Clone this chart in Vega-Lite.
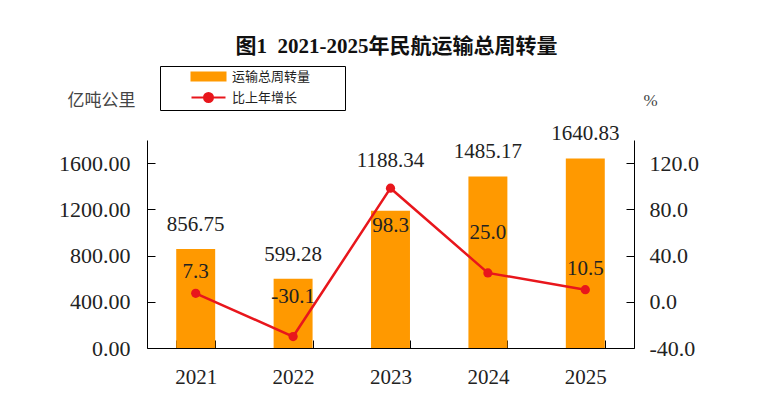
{
  "$schema": "https://vega.github.io/schema/vega-lite/v6.json",
  "width": 487,
  "height": 208,
  "autosize": {"type": "none"},
  "padding": {"left": 147, "top": 140, "right": 127, "bottom": 49},
  "background": "white",
  "title": {
    "text": "图1\u00a0\u00a02021-2025年民航运输总周转量",
    "font": "Liberation Serif, Noto Sans CJK SC",
    "fontSize": 21,
    "fontWeight": "bold",
    "color": "#111",
    "anchor": "middle",
    "offset": 9,
    "dx": 6
  },
  "config": {
    "view": {"stroke": null},
    "axis": {"grid": false},
    "locale": {"number": {"decimal": ".", "thousands": ",", "grouping": [3], "currency": ["", ""], "minus": "-"}}
  },
  "data": {
    "values": [
      {"year": "2021", "volume": 856.75, "growth": 7.3},
      {"year": "2022", "volume": 599.28, "growth": -30.1},
      {"year": "2023", "volume": 1188.34, "growth": 98.3},
      {"year": "2024", "volume": 1485.17, "growth": 25.0},
      {"year": "2025", "volume": 1640.83, "growth": 10.5}
    ]
  },
  "encoding": {
    "x": {
      "field": "year",
      "type": "ordinal",
      "scale": {"paddingInner": 0.6, "paddingOuter": 0.3},
      "axis": {
        "title": null,
        "labelAngle": 0,
        "labelFont": "Liberation Serif",
        "labelFontSize": 21,
        "labelColor": "#222",
        "labelPadding": 26,
        "domainColor": "#000",
        "tickColor": "#000",
        "tickSize": -8,
        "tickBand": "extent"
      }
    }
  },
  "layer": [
    {
      "encoding": {
        "y": {
          "field": "volume",
          "type": "quantitative",
          "scale": {"domain": [0, 1800], "nice": false},
          "axis": {
            "values": [0, 400, 800, 1200, 1600],
            "format": ".2f",
            "labelFont": "Liberation Serif",
            "labelFontSize": 22,
            "labelColor": "#222",
            "labelPadding": 25,
            "domainColor": "#000",
            "tickColor": "#000",
            "tickSize": -8,
            "title": "亿吨公里",
            "titleAngle": 0,
            "titleX": -46,
            "titleY": -40,
            "titleAlign": "center",
            "titleBaseline": "middle",
            "titleFont": "Noto Sans CJK SC",
            "titleFontSize": 17,
            "titleFontWeight": "normal",
            "titleColor": "#444"
          }
        }
      },
      "layer": [
        {
          "mark": {"type": "bar", "color": "#FF9900"},
          "encoding": {
            "color": {
              "datum": "运输总周转量",
              "type": "nominal",
              "scale": {"domain": ["运输总周转量", "比上年增长"], "range": ["#FF9900", "#E8161C"]},
              "legend": {
                "orient": "none",
                "legendX": 13,
                "legendY": -74,
                "title": null,
                "strokeColor": "#000",
                "fillColor": "white",
                "padding": 4,
                "rowPadding": 4,
                "symbolOffset": 38,
                "labelOffset": 17,
                "labelFont": "Noto Sans CJK SC",
                "labelFontSize": 13,
                "labelColor": "#222",
                "labelExpr": "datum.label + '\u2800\u2800\u2800'",
                "symbolSize": 100,
                "encode": {
                  "symbols": {
                    "update": {
                      "shape": {"signal": "datum.value === '运输总周转量' ? 'M-3.4,-0.8H3.4V0.8H-3.4Z' : 'M-3.4,0H3.4M0.9,0A0.9,0.9,0,1,1,-0.9,0A0.9,0.9,0,1,1,0.9,0Z'"},
                      "fill": {"signal": "datum.value === '运输总周转量' ? '#FF9900' : '#E8161C'"},
                      "stroke": {"signal": "datum.value === '运输总周转量' ? '#FF9900' : '#E8161C'"},
                      "strokeWidth": {"value": 2},
                      "fillOpacity": {"value": 1},
                      "opacity": {"value": 1}
                    }
                  }
                }
              }
            }
          }
        },
        {
          "transform": [{"filter": "datum.year !== '2023'"}],
          "mark": {"type": "text", "font": "Liberation Serif", "fontSize": 21, "color": "#222", "baseline": "middle", "dy": -24},
          "encoding": {"text": {"field": "volume", "type": "quantitative", "format": ".2f"}}
        },
        {
          "transform": [{"filter": "datum.year === '2023'"}],
          "mark": {"type": "text", "font": "Liberation Serif", "fontSize": 21, "color": "#222", "baseline": "middle", "dy": -50},
          "encoding": {"text": {"field": "volume", "type": "quantitative", "format": ".2f"}}
        }
      ]
    },
    {
      "encoding": {
        "y": {
          "field": "growth",
          "type": "quantitative",
          "scale": {"domain": [-40, 140], "nice": false},
          "axis": {
            "orient": "right",
            "values": [-40, 0, 40, 80, 120],
            "format": ".1f",
            "labelFont": "Liberation Serif",
            "labelFontSize": 22,
            "labelColor": "#222",
            "labelPadding": 23,
            "domainColor": "#000",
            "tickColor": "#000",
            "tickSize": -8,
            "title": "%",
            "titleAngle": 0,
            "titleX": 16,
            "titleY": -40,
            "titleAlign": "center",
            "titleBaseline": "middle",
            "titleFont": "Liberation Serif",
            "titleFontSize": 17,
            "titleFontWeight": "normal",
            "titleColor": "#444"
          }
        }
      },
      "layer": [
        {
          "mark": {"type": "line", "strokeWidth": 2.5},
          "encoding": {"color": {"datum": "比上年增长", "type": "nominal"}}
        },
        {
          "mark": {"type": "point", "filled": true, "size": 85, "opacity": 1},
          "encoding": {"color": {"datum": "比上年增长", "type": "nominal"}}
        },
        {
          "transform": [{"filter": "datum.year === '2021' || datum.year === '2025'"}],
          "mark": {"type": "text", "font": "Liberation Serif", "fontSize": 21, "color": "#222", "baseline": "middle", "dy": -21},
          "encoding": {"text": {"field": "growth", "type": "quantitative", "format": ".1f"}}
        },
        {
          "transform": [{"filter": "datum.year === '2022' || datum.year === '2024'"}],
          "mark": {"type": "text", "font": "Liberation Serif", "fontSize": 21, "color": "#222", "baseline": "middle", "dy": -40},
          "encoding": {"text": {"field": "growth", "type": "quantitative", "format": ".1f"}}
        },
        {
          "transform": [{"filter": "datum.year === '2023'"}],
          "mark": {"type": "text", "font": "Liberation Serif", "fontSize": 21, "color": "#222", "baseline": "middle", "dy": 38},
          "encoding": {"text": {"field": "growth", "type": "quantitative", "format": ".1f"}}
        }
      ]
    }
  ],
  "resolve": {"scale": {"y": "independent"}}
}
